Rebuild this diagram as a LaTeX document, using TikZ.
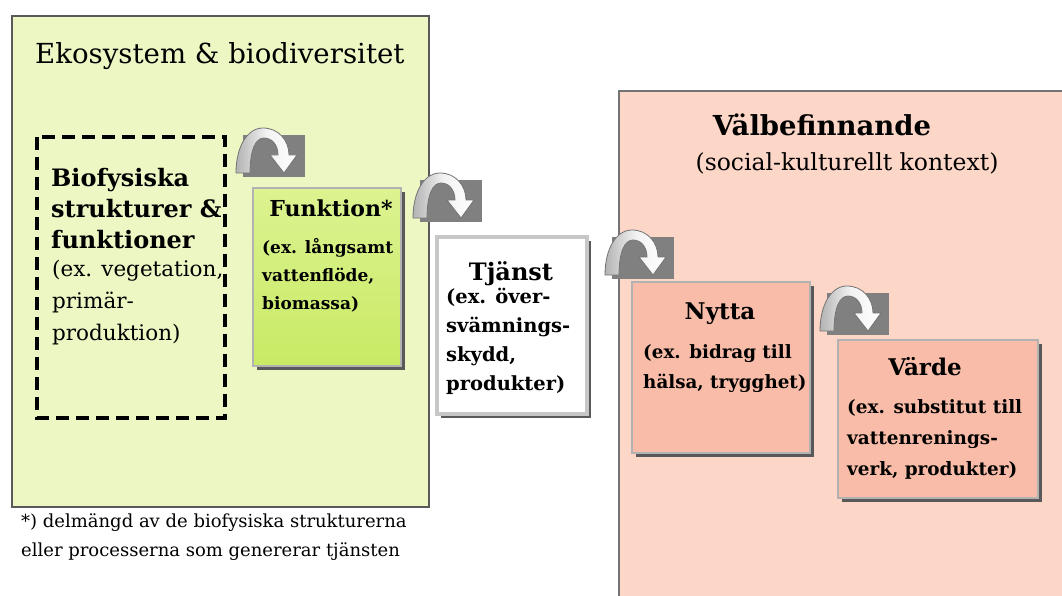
\documentclass[tikz,border=0pt]{standalone}
\usepackage{fontspec}
\setmainfont{DejaVu Serif}
\usetikzlibrary{shadows}

\definecolor{ekogreen}{RGB}{237,247,196}
\definecolor{funkgreen}{RGB}{200,234,100}
\definecolor{funklight}{RGB}{220,243,145}
\definecolor{valpink}{RGB}{252,214,199}
\definecolor{boxpink}{RGB}{248,188,168}
\definecolor{iconbg}{RGB}{128,128,128}

\newcommand\fs[2]{\fontsize{#1}{#2}\selectfont}

\tikzset{
  turn/.pic={
    % gray backing square and the bent arrow on top of it
    \fill[iconbg] (0,0) rectangle (62,42);
    \draw[draw=black!55, line width=0.8, left color=black!30, right color=white, middle color=white!95!black]
      (-7,38) .. controls (-7,12) and (4,-7) .. (20,-7)
      .. controls (36,-7) and (46,6) .. (46,20)
      -- (54,20) -- (41,38) -- (27,20) -- (35,20)
      .. controls (35,10) and (29,3) .. (21,3)
      .. controls (13,3) and (7,14) .. (7,38) -- cycle;
  }
}

\begin{document}
\begin{tikzpicture}[x=1pt,y=1pt,yscale=-1,
  every node/.style={inner sep=0pt},
  head/.style={font=\bfseries\fs{23}{30}},
  body/.style={font=\bfseries\fs{18.3}{30}, align=left, anchor=north west},
  card/.style={draw=black!30, line width=1.5, drop shadow={shadow xshift=4pt, shadow yshift=-4pt, fill=black!65, opacity=1}}]
  \useasboundingbox (0,0) rectangle (1062,596);
  \begin{scope}
  \clip (0,0) rectangle (1062,596);
	% the two big areas
	\draw [fill=ekogreen, draw=black!65, line width=1.5] (12,16) rectangle (429,507) ;
	\draw [fill=valpink, draw=black!55, line width=2] (619,91) rectangle (1075,610) ;
	\node [anchor=west, font=\fs{27.6}{36}] (eko) at (35,56) {Ekosystem \& biodiversitet};
	\node [font=\bfseries\fs{27.5}{32}] (val) at (822,125) {V\"albefinnande};
	\node [font=\fs{23.5}{28}] (valsub) at (847,163) {(social-kulturellt kontext)};

	% dashed part
	\draw [dash pattern={on 13pt off 7pt}, line width=3.5] (37,137) rectangle (225,418) ;
	\node [body, font=\bfseries\fs{24}{31}] (bio) at (51,168) {Biofysiska\\strukturer \&\\funktioner};
	\node [body, font=\fs{21.5}{32}] (biotxt) at (52,260) {(ex. vegetation,\\prim\"ar-\\produktion)};

	% the four boxes
	\node [card, top color=funklight, bottom color=funkgreen, minimum width=148, minimum height=178] (funk) at (327,277) {};
	\node [card, fill=white, draw=black!22, line width=4, minimum width=150, minimum height=177] (tj) at (512,325.5) {};
	\node [card, fill=boxpink, minimum width=178, minimum height=171] (nyt) at (721,367.5) {};
	\node [card, fill=boxpink, minimum width=200, minimum height=158] (vard) at (938,419) {};

	\node [head, font=\bfseries\fs{22}{30}] (funkh) at (331,208) {Funktion*};
	\node [body, font=\bfseries\fs{17}{28}] (funktxt) at (262,238) {(ex. l\aa ngsamt\\vattenfl\"ode,\\biomassa)};
	\node [head, font=\bfseries\fs{24}{30}] (tjh) at (511,274) {Tj\"anst};
	\node [body, font=\bfseries\fs{19.5}{29}] (tjtxt) at (446,288) {(ex. \"over-\\sv\"amnings-\\skydd,\\produkter)};
	\node [head] (nyth) at (720,314) {Nytta};
	\node [body, font=\bfseries\fs{18.3}{30}] (nyttxt) at (643,344) {(ex. bidrag till\\h\"alsa, trygghet)};
	\node [head] (vardh) at (925,367) {V\"arde};
	\node [body, font=\bfseries\fs{18.4}{31}] (vardtxt) at (847,399) {(ex. substitut till\\vattenrenings-\\verk, produkter)};

	% turn arrows between the steps
	\pic [yscale=-1] at (243,135) {turn};
	\pic [yscale=-1] at (420,180) {turn};
	\pic [yscale=-1] at (612,237) {turn};
	\pic [yscale=-1] at (827,293) {turn};

	% footnote
	\node [body, font=\fs{18}{29}] (note) at (21,514) {*) delm\"angd av de biofysiska strukturerna\\eller processerna som genererar tj\"ansten};
  \end{scope}
\end{tikzpicture}
\end{document}
